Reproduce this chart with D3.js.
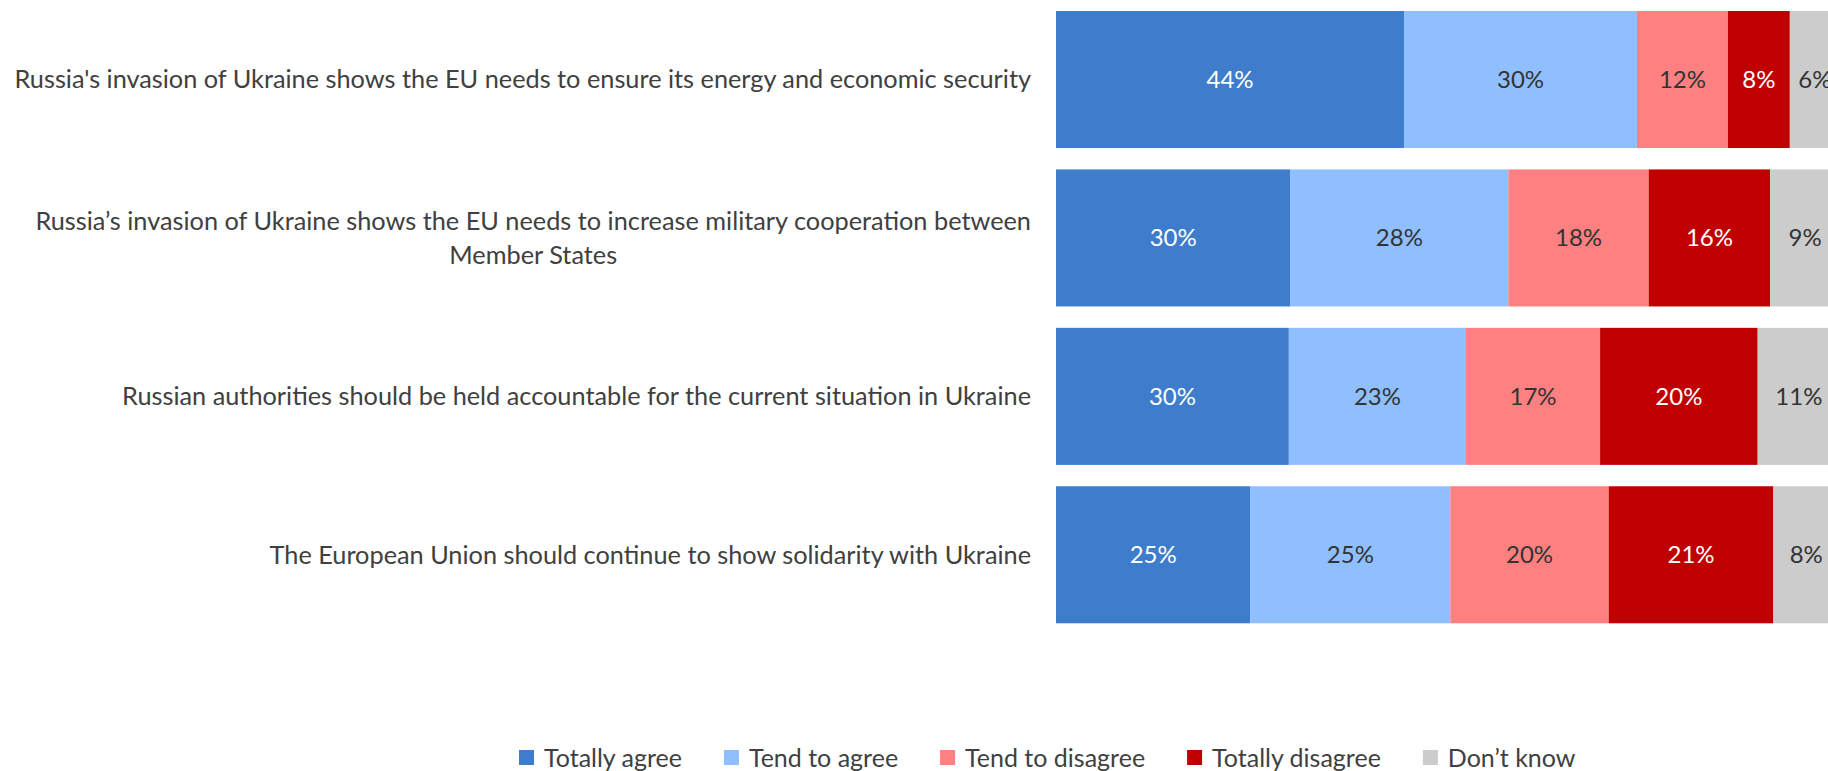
<!DOCTYPE html>
<html>
<head>
<meta charset="UTF-8">
<title>Russia's invasion of Ukraine - opinions</title>
<script src="https://d3js.org/d3.v7.min.js"></script>
<style>
body { margin: 0; background: #fff; }
text { font-family: Lato, "Open Sans", sans-serif; }
</style>
</head>
<body>
<svg id="chart" width="1828" height="771"></svg>
<script>
// statements (second one wraps onto two lines)
var categories = [
  ["Russia's invasion of Ukraine shows the EU needs to ensure its energy and economic security"],
  ["Russia\u2019s invasion of Ukraine shows the EU needs to increase military cooperation between", "Member States"],
  ["Russian authorities should be held accountable for the current situation in Ukraine"],
  ["The European Union should continue to show solidarity with Ukraine"]
];
var seriesNames = ["Totally agree", "Tend to agree", "Tend to disagree", "Totally disagree", "Don\u2019t know"];
var totallyAgree    = [44.4, 29.9, 29.7, 24.8];
var tendToAgree     = [29.7, 27.8, 22.6, 25.5];
var tendToDisagree  = [11.6, 17.9, 17.1, 20.2];
var totallyDisagree = [7.9, 15.5, 20.1, 21.0];
var dontKnow        = [6.4, 8.9, 10.5, 8.4];

var colors = ["#3e7dcc", "#8fbfff", "#ff8080", "#c00000", "#cccccc"];
var labelColors = ["#ffffff", "#333333", "#333333", "#ffffff", "#333333"];

var svg = d3.select("#chart");
var values = [totallyAgree, tendToAgree, tendToDisagree, totallyDisagree, dontKnow];

var rows = categories.map(function(c, i) {
  var r = { id: i };
  seriesNames.forEach(function(s, j) { r[s] = values[j][i]; });
  return r;
});

var x = d3.scaleLinear().domain([0, 100]).range([1056, 1840]);
var y = d3.scaleBand().domain(d3.range(categories.length)).range([11, 623.3]).paddingInner(0.135);

var stacked = d3.stack().keys(seriesNames)(rows);

var layer = svg.selectAll("g.layer").data(stacked).enter().append("g").attr("class", "layer");

layer.each(function(s, j) {
  var g = d3.select(this);
  g.selectAll("rect").data(s).enter().append("rect")
    .attr("x", function(d) { return x(d[0]); })
    .attr("y", function(d) { return y(d.data.id); })
    .attr("width", function(d) { return x(d[1]) - x(d[0]); })
    .attr("height", y.bandwidth())
    .attr("fill", colors[j]);
  g.selectAll("text").data(s).enter().append("text")
    .attr("x", function(d) { return (x(d[0]) + x(d[1])) / 2; })
    .attr("y", function(d) { return y(d.data.id) + y.bandwidth() / 2; })
    .attr("dy", "0.35em")
    .attr("text-anchor", "middle")
    .attr("font-size", 24)
    .attr("fill", labelColors[j])
    .text(function(d) { return Math.round(d[1] - d[0]) + "%"; });
});

// category labels, block right-aligned, lines centered in block
var labelRight = 1031;
var lineH = 34;
categories.forEach(function(lines, i) {
  var g = svg.append("g");
  var cy = y(i) + y.bandwidth() / 2;
  var t = g.selectAll("text").data(lines).enter().append("text")
    .attr("y", function(d, k) { return cy + (k - (lines.length - 1) / 2) * lineH; })
    .attr("dy", "0.35em")
    .attr("font-size", 25.3)
    .attr("fill", "#404040")
    .attr("text-anchor", "middle")
    .text(function(d) { return d; });
  var w = d3.max(t.nodes(), function(n) { return n.getComputedTextLength(); });
  t.attr("x", labelRight - w / 2);
});

// legend
var legend = svg.append("g");
var lx = 519, ly = 758;
seriesNames.forEach(function(s, j) {
  legend.append("rect").attr("x", lx).attr("y", ly - 8).attr("width", 15).attr("height", 15).attr("fill", colors[j]);
  var t = legend.append("text").attr("x", lx + 25).attr("y", ly).attr("dy", "0.35em")
    .attr("font-size", 25).attr("fill", "#404040").text(s);
  lx += 25 + t.node().getComputedTextLength() + 42;
});
</script>
</body>
</html>
